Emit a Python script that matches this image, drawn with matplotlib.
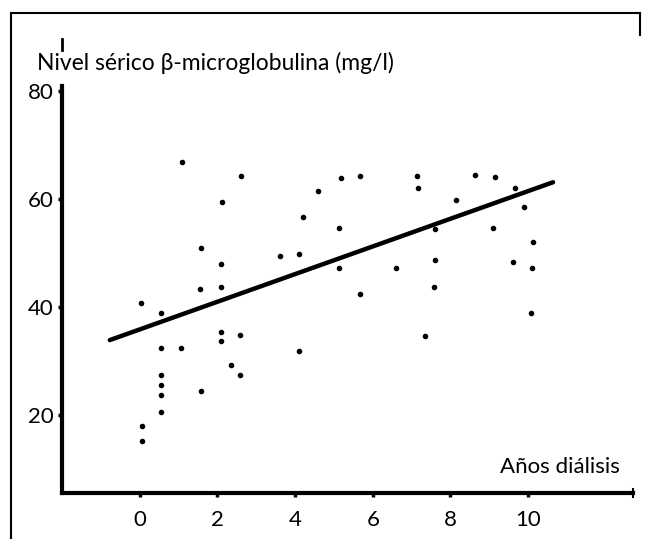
import matplotlib.pyplot as plt
from matplotlib.lines import Line2D

# años de diálisis / nivel sérico (mg/l)
anos = [0.03, 0.56, 0.54, 1.05, 0.56, 0.56, 0.56, 0.56, 0.05, 0.05,
        1.08, 1.57, 1.54, 1.57, 2.08, 2.1, 2.13, 2.1, 2.08, 2.57, 2.34, 2.57, 2.6,
        3.6, 4.1, 4.2, 4.6, 4.09,
        5.19, 5.66, 5.14, 5.14, 5.66, 6.6,
        7.15, 7.17, 7.6, 7.6, 7.58, 7.35,
        8.15, 8.64, 9.15, 9.1, 9.67, 9.9, 9.6,
        10.13, 10.1, 10.07]
nivel = [40.7, 38.9, 32.4, 32.4, 27.4, 25.6, 23.7, 20.6, 18.1, 15.2,
         66.9, 50.9, 43.3, 24.6, 48.0, 43.7, 59.4, 35.4, 33.7, 34.8, 29.3, 27.4, 64.3,
         49.4, 49.8, 56.7, 61.5, 31.9,
         63.9, 64.3, 54.6, 47.2, 42.4, 47.2,
         64.3, 62.0, 54.4, 48.7, 43.7, 34.6,
         59.8, 64.4, 64.1, 54.6, 62.0, 58.5, 48.3,
         52.0, 47.2, 38.9]

# recta de regresión
ordenada = 35.9
pendiente = 2.56
x_recta = [-0.77, 10.64]

xticks = [0, 2, 4, 6, 8, 10]
yticks = [20, 40, 60, 80]

plt.rcParams['font.family'] = ['Lato', 'DejaVu Sans']

fig = plt.figure(figsize=(6.46, 5.39), dpi=100)
ax = fig.add_axes([0.096, 0.085, 0.884, 0.756])

ax.plot(anos, nivel, 'o', color='black', markersize=3)
ax.plot(x_recta, [ordenada + pendiente * x for x in x_recta],
        color='black', linewidth=3.2, solid_capstyle='round')

ax.set_xlim(-2, 12.7)
ax.set_ylim(5.6, 81)
ax.set_xticks(xticks)
ax.set_yticks(yticks)
ax.tick_params(direction='out', length=3, width=2.5, labelsize=16)
ax.tick_params(axis='x', pad=9)
ax.tick_params(axis='y', pad=3)

for s in ['top', 'right']:
    ax.spines[s].set_visible(False)
for s in ['left', 'bottom']:
    ax.spines[s].set_linewidth(3)

fig.text(37 / 646, 1 - 70 / 539, 'Nivel sérico β-microglobulina (mg/l)',
         fontsize=16.5, va='baseline')
fig.text(620 / 646, 1 - 473 / 539, 'Años diálisis', fontsize=16,
         ha='right', va='baseline')

# marco de la figura y marca sobre el eje y
fw = fig.transFigure
fig.add_artist(Line2D([11 / 646, 11 / 646], [0, 1 - 13 / 539],
                      transform=fw, color='black', linewidth=1.5))
fig.add_artist(Line2D([11 / 646, 640 / 646], [1 - 13 / 539, 1 - 13 / 539],
                      transform=fw, color='black', linewidth=1.5))
fig.add_artist(Line2D([640 / 646, 640 / 646], [1 - 13 / 539, 1 - 35 / 539],
                      transform=fw, color='black', linewidth=1.5))
fig.add_artist(Line2D([62 / 646, 62 / 646], [1 - 39 / 539, 1 - 50 / 539],
                      transform=fw, color='black', linewidth=2))
fig.add_artist(Line2D([633 / 646, 633 / 646], [1 - 489 / 539, 1 - 497 / 539],
                      transform=fw, color='black', linewidth=1.5))

fig.savefig('out.png', dpi=100)
